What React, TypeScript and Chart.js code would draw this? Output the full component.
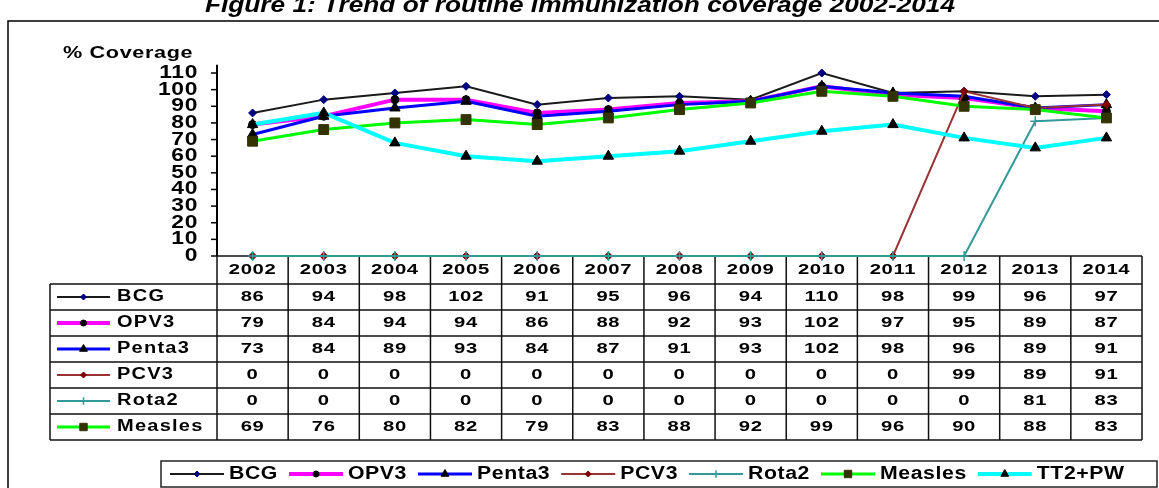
import React, { useEffect, useRef } from 'react';
import { Chart, registerables } from 'chart.js';

Chart.register(...registerables);

// ---------- data ----------
const years = ['2002', '2003', '2004', '2005', '2006', '2007', '2008', '2009', '2010', '2011', '2012', '2013', '2014'];
const bcg = [86, 94, 98, 102, 91, 95, 96, 94, 110, 98, 99, 96, 97];
const opv3 = [79, 84, 94, 94, 86, 88, 92, 93, 102, 97, 95, 89, 87];
const penta3 = [73, 84, 89, 93, 84, 87, 91, 93, 102, 98, 96, 89, 91];
const pcv3 = [0, 0, 0, 0, 0, 0, 0, 0, 0, 0, 99, 89, 91];
const rota2 = [0, 0, 0, 0, 0, 0, 0, 0, 0, 0, 0, 81, 83];
const measles = [69, 76, 80, 82, 79, 83, 88, 92, 99, 96, 90, 88, 83];
const tt2pw = [79, 86, 68, 60, 57, 60, 63, 69, 75, 79, 71, 65, 71];
const seriesNames = ['BCG', 'OPV3', 'Penta3', 'PCV3', 'Rota2', 'Measles', 'TT2+PW'];
const seriesData = [bcg, opv3, penta3, pcv3, rota2, measles, tt2pw];
const tableSeriesCount = 6; // TT2+PW is not in the data table
const yTicks = [0, 10, 20, 30, 40, 50, 60, 70, 80, 90, 100, 110];
const TITLE = 'Figure 1: Trend of routine immunization coverage 2002-2014';
const Y_TITLE = '% Coverage';

// ---------- styles ----------
type Sty = { color: string; width: number; point: string; r: number; fill: string; stroke: string };
const styles: Sty[] = [
  { color: '#1a1a1a', width: 2, point: 'rectRot', r: 4, fill: '#000080', stroke: '#000080' },
  { color: '#FF00FF', width: 4, point: 'circle', r: 4, fill: '#000000', stroke: '#000000' },
  { color: '#0000FF', width: 3, point: 'triangle', r: 6, fill: '#000000', stroke: '#000000' },
  { color: '#993333', width: 2, point: 'rectRot', r: 4, fill: '#800000', stroke: '#800000' },
  { color: '#339999', width: 2, point: 'cross', r: 5, fill: '#339999', stroke: '#339999' },
  { color: '#00FF00', width: 3, point: 'rect', r: 7, fill: '#333300', stroke: '#333300' },
  { color: '#00FFFF', width: 4, point: 'triangle', r: 6, fill: '#000000', stroke: '#000000' },
];

const FONT_FAMILY = '"Liberation Sans", Arial, sans-serif';

function drawText(
  ctx: CanvasRenderingContext2D,
  text: string,
  x: number,
  y: number,
  o: { size: number; align?: CanvasTextAlign; base?: CanvasTextBaseline; italic?: boolean; sx?: number; ls?: number; width?: number; color?: string }
) {
  ctx.save();
  ctx.font = `${o.italic ? 'italic ' : ''}bold ${o.size}px ${FONT_FAMILY}`;
  (ctx as any).letterSpacing = `${o.ls ?? 0}px`;
  let sx = o.sx ?? 1;
  if (o.width) sx = o.width / ctx.measureText(text).width;
  ctx.translate(x, y);
  ctx.scale(sx, 1);
  ctx.textAlign = o.align ?? 'left';
  ctx.textBaseline = o.base ?? 'middle';
  ctx.fillStyle = o.color ?? '#000';
  ctx.fillText(text, 0, 0);
  ctx.restore();
}

function drawMarker(ctx: CanvasRenderingContext2D, s: Sty, x: number, y: number, r: number) {
  ctx.save();
  ctx.fillStyle = s.fill;
  ctx.strokeStyle = s.stroke;
  ctx.lineWidth = 1;
  ctx.beginPath();
  if (s.point === 'circle') {
    ctx.arc(x, y, r, 0, Math.PI * 2);
  } else if (s.point === 'rectRot') {
    ctx.moveTo(x, y - r);
    ctx.lineTo(x + r, y);
    ctx.lineTo(x, y + r);
    ctx.lineTo(x - r, y);
    ctx.closePath();
  } else if (s.point === 'rect') {
    const h = r * Math.SQRT1_2;
    ctx.rect(x - h, y - h, 2 * h, 2 * h);
  } else if (s.point === 'triangle') {
    let a = 0;
    ctx.moveTo(x + Math.sin(a) * r, y - Math.cos(a) * r);
    a += (2 * Math.PI) / 3;
    ctx.lineTo(x + Math.sin(a) * r, y - Math.cos(a) * r);
    a += (2 * Math.PI) / 3;
    ctx.lineTo(x + Math.sin(a) * r, y - Math.cos(a) * r);
    ctx.closePath();
  } else if (s.point === 'cross') {
    ctx.moveTo(x, y - r);
    ctx.lineTo(x, y + r);
    ctx.moveTo(x - r, y);
    ctx.lineTo(x + r, y);
    ctx.lineWidth = 1.5;
    ctx.stroke();
    ctx.restore();
    return;
  }
  ctx.fill();
  ctx.stroke();
  ctx.restore();
}

function drawSample(ctx: CanvasRenderingContext2D, s: Sty, x0: number, x1: number, y: number) {
  ctx.save();
  ctx.strokeStyle = s.color;
  ctx.lineWidth = s.width;
  ctx.beginPath();
  ctx.moveTo(x0, y);
  ctx.lineTo(x1, y);
  ctx.stroke();
  ctx.restore();
  drawMarker(ctx, s, (x0 + x1) / 2, y, s.r * 0.75);
}

const decorPlugin = {
  id: 'decor',
  beforeDatasetsDraw(chart: any) {
    const ctx: CanvasRenderingContext2D = chart.ctx;
    const xs = chart.scales.x;
    const ys = chart.scales.y;
    const area = chart.chartArea;

    // outer frame
    ctx.save();
    ctx.strokeStyle = '#000';
    ctx.lineWidth = 1.5;
    ctx.strokeRect(8, 21, 1200, 520);
    ctx.restore();

    // title (partly cut off at top)
    drawText(ctx, TITLE, 580, 12, { size: 22, italic: true, base: 'alphabetic', align: 'center', width: 750 });

    // y axis title
    drawText(ctx, Y_TITLE, 63, 53, { size: 16.5, ls: 0.5, sx: 1.31 });

    // y axis line + ticks + labels
    const axisX = area.left;
    ctx.save();
    ctx.strokeStyle = '#000';
    ctx.lineWidth = 2;
    ctx.beginPath();
    ctx.moveTo(axisX, area.top);
    ctx.lineTo(axisX, area.bottom);
    ctx.stroke();
    ctx.lineWidth = 1.5;
    for (const v of yTicks) {
      const py = ys.getPixelForValue(v);
      ctx.beginPath();
      ctx.moveTo(axisX - 6, py);
      ctx.lineTo(axisX, py);
      ctx.stroke();
    }
    ctx.restore();
    for (const v of yTicks) {
      drawText(ctx, String(v), 198, ys.getPixelForValue(v), { size: 18, align: 'right', ls: 0.5, sx: 1.27 });
    }

    // data table
    const colW = xs.getPixelForValue(1) - xs.getPixelForValue(0);
    const tableLeft = 50;
    const gridLeft = xs.getPixelForValue(0) - colW / 2;
    const gridRight = xs.getPixelForValue(years.length - 1) + colW / 2;
    const headTop = ys.getPixelForValue(0);
    const headH = 28;
    const rowH = 26;
    const rowsTop = headTop + headH;
    const tableBottom = rowsTop + rowH * tableSeriesCount;

    ctx.save();
    ctx.strokeStyle = '#111';
    ctx.lineWidth = 1.5;
    ctx.beginPath();
    ctx.moveTo(gridLeft, headTop);
    ctx.lineTo(gridRight, headTop);
    for (let i = 0; i <= tableSeriesCount; i++) {
      const yy = rowsTop + i * rowH;
      ctx.moveTo(tableLeft, yy);
      ctx.lineTo(gridRight, yy);
    }
    ctx.moveTo(tableLeft, rowsTop);
    ctx.lineTo(tableLeft, tableBottom);
    for (let i = 0; i <= years.length; i++) {
      const xx = gridLeft + i * colW;
      ctx.moveTo(xx, headTop);
      ctx.lineTo(xx, tableBottom);
    }
    ctx.stroke();
    ctx.restore();

    years.forEach((yr, i) => {
      drawText(ctx, yr, xs.getPixelForValue(i), headTop + headH / 2, { size: 15, align: 'center', ls: 0.5, sx: 1.35 });
    });
    for (let s = 0; s < tableSeriesCount; s++) {
      const cy = rowsTop + rowH * s + rowH / 2;
      drawSample(ctx, styles[s], 57, 110, cy);
      drawText(ctx, seriesNames[s], 117, cy, { size: 16, ls: 1, sx: 1.25 });
      seriesData[s].forEach((v, i) => {
        drawText(ctx, String(v), xs.getPixelForValue(i), cy, { size: 15, align: 'center', ls: 0.5, sx: 1.35 });
      });
    }

    // bottom legend
    ctx.save();
    ctx.strokeStyle = '#222';
    ctx.lineWidth = 1.5;
    ctx.strokeRect(161, 461, 996, 26);
    ctx.restore();
    let lx = 170;
    const ly = 474;
    ctx.save();
    ctx.font = `bold 18px ${FONT_FAMILY}`;
    (ctx as any).letterSpacing = '0.5px';
    const widths = seriesNames.map((n) => ctx.measureText(n).width * 1.18);
    ctx.restore();
    seriesNames.forEach((n, i) => {
      drawSample(ctx, styles[i], lx, lx + 54, ly);
      drawText(ctx, n, lx + 59, ly, { size: 18, ls: 0.5, sx: 1.18 });
      lx += 59 + widths[i] + 11;
    });
  },
};

export default function App() {
  const ref = useRef<HTMLCanvasElement | null>(null);
  useEffect(() => {
    if (!ref.current) return;
    const datasets = seriesNames.map((name, i) => ({
      label: name,
      data: seriesData[i],
      borderColor: styles[i].color,
      borderWidth: styles[i].width,
      backgroundColor: styles[i].fill,
      pointStyle: styles[i].point as any,
      pointRadius: styles[i].r,
      pointBackgroundColor: styles[i].fill,
      pointBorderColor: styles[i].stroke,
      pointBorderWidth: styles[i].point === 'cross' ? 1.5 : 1,
      tension: 0,
      fill: false,
      clip: false as any,
      order: seriesNames.length - i,
    }));
    const chart = new Chart(ref.current, {
      type: 'line',
      data: { labels: years, datasets },
      options: {
        animation: false,
        responsive: false,
        devicePixelRatio: 1,
        layout: { padding: { left: 217, right: 17, top: 64.7, bottom: 232 } },
        plugins: { legend: { display: false }, tooltip: { enabled: false }, title: { display: false } },
        scales: {
          x: { type: 'category', display: false, offset: true },
          y: { display: false, min: 0, max: 115 },
        },
      },
      plugins: [decorPlugin],
    });
    return () => chart.destroy();
  }, []);
  return (
    <div style={{ position: 'absolute', left: 0, top: 0, width: 1159, height: 488, background: '#fff' }}>
      <canvas ref={ref} width={1159} height={488} style={{ display: 'block' }} />
    </div>
  );
}
